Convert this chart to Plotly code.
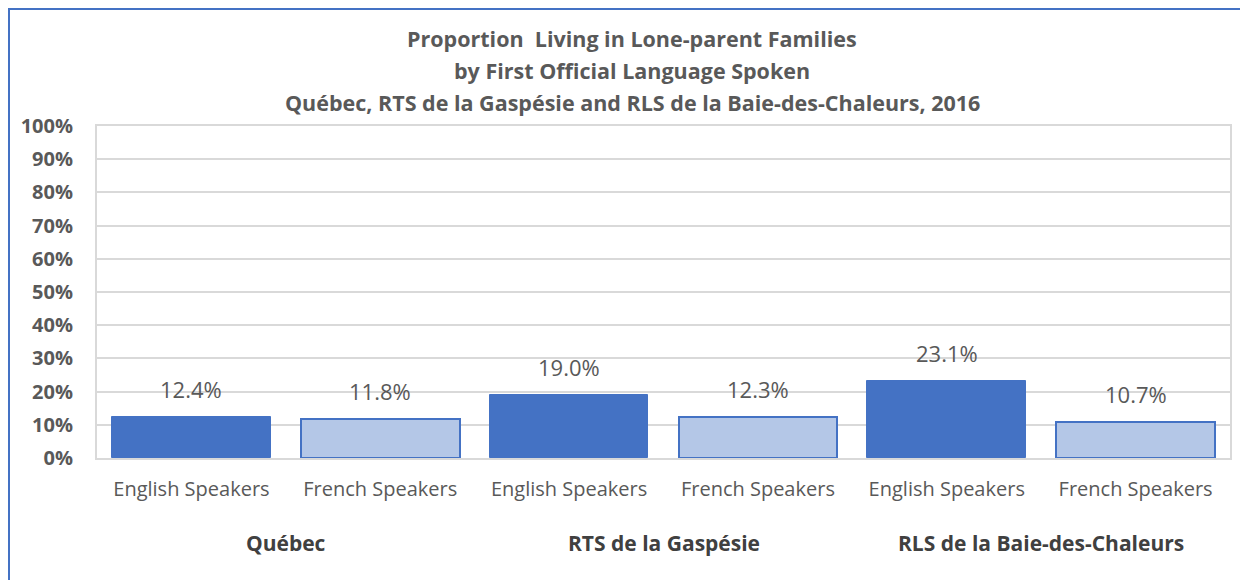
import plotly.graph_objects as go

# Data
regions = ["Québec", "RTS de la Gaspésie", "RLS de la Baie-des-Chaleurs"]
speakers = ["English Speakers", "French Speakers"]
english = [12.4, 19.0, 23.1]
french = [11.8, 12.3, 10.7]
y_ticks = [0, 10, 20, 30, 40, 50, 60, 70, 80, 90, 100]

font_name = "Open Sans"
grey = "#595959"

# page body adds 8px, so the figure is 8px smaller than the window
W, H = 1240, 572
L, R, T, B = 89, 18, 118, 122
PW, PH = W - L - R, H - T - B

fig = go.Figure()

eng_x = [i * 2 for i in range(len(regions))]
fr_x = [i * 2 + 1 for i in range(len(regions))]

fig.add_trace(go.Bar(
    x=eng_x, y=english, width=0.84,
    marker=dict(color="#4472C4", line=dict(color="#4472C4", width=1)),
    name="English Speakers", hoverinfo="y",
))
fig.add_trace(go.Bar(
    x=fr_x, y=french, width=0.84,
    marker=dict(color="#B4C7E7", line=dict(color="#4472C4", width=2)),
    name="French Speakers", hoverinfo="y",
))

# value labels above bars
for xs, vals in [(eng_x, english), (fr_x, french)]:
    for x, v in zip(xs, vals):
        fig.add_annotation(x=x, y=v, text=f"{v:.1f}%", showarrow=False,
                           yanchor="bottom", yshift=11,
                           font=dict(family=font_name, size=22, color=grey))

# group labels
for i, r in enumerate(regions):
    fig.add_annotation(x=i * 2 + 0.5, y=0, xref="x", yref="paper", text=f"<b>{r}</b>",
                       showarrow=False, yanchor="middle", yshift=-85,
                       font=dict(family=font_name, size=21, color="#404040"))

# title
title_lines = [
    "Proportion  Living in Lone-parent Families",
    "by First Official Language Spoken",
    "Québec, RTS de la Gaspésie and RLS de la Baie-des-Chaleurs, 2016",
]
for k, line in enumerate(title_lines):
    fig.add_annotation(x=(624 - L) / PW, y=1, xref="paper", yref="paper",
                       text=f"<b>{line}</b>", showarrow=False, yanchor="middle",
                       yshift=T - (30 + 32 * k),
                       font=dict(family=font_name, size=21.5, color=grey))

fig.update_xaxes(
    tickvals=eng_x + fr_x,
    ticktext=[speakers[0]] * 3 + [speakers[1]] * 3,
    range=[-0.5, 5.5],
    showgrid=False, showline=True, mirror=True, linecolor="#D9D9D9", linewidth=2,
    ticks="", ticklabelstandoff=12,
    tickfont=dict(family=font_name, size=20, color=grey),
    fixedrange=True,
)
fig.update_yaxes(
    range=[0, 100], tickvals=y_ticks, ticktext=[f"<b>{t}%</b>" for t in y_ticks],
    showgrid=True, gridcolor="#D9D9D9", gridwidth=2,
    showline=True, mirror=True, linecolor="#D9D9D9", linewidth=2,
    zeroline=False, ticks="", ticklabelstandoff=18,
    tickfont=dict(family=font_name, size=20, color=grey),
    fixedrange=True,
)

# outer border of the chart (right and bottom edges fall outside the picture)
fig.add_shape(type="rect", xref="paper", yref="paper",
              x0=(1 - L) / PW, x1=(W + 20 - L) / PW,
              y0=-(B + 20) / PH, y1=(PH + T - 1) / PH,
              line=dict(color="#4472C4", width=2), layer="below")

fig.update_layout(
    width=W, height=H,
    margin=dict(l=L, r=R, t=T, b=B),
    plot_bgcolor="white", paper_bgcolor="white",
    showlegend=False, bargap=0,
    font=dict(family=font_name),
)

fig.write_html("out.html")
